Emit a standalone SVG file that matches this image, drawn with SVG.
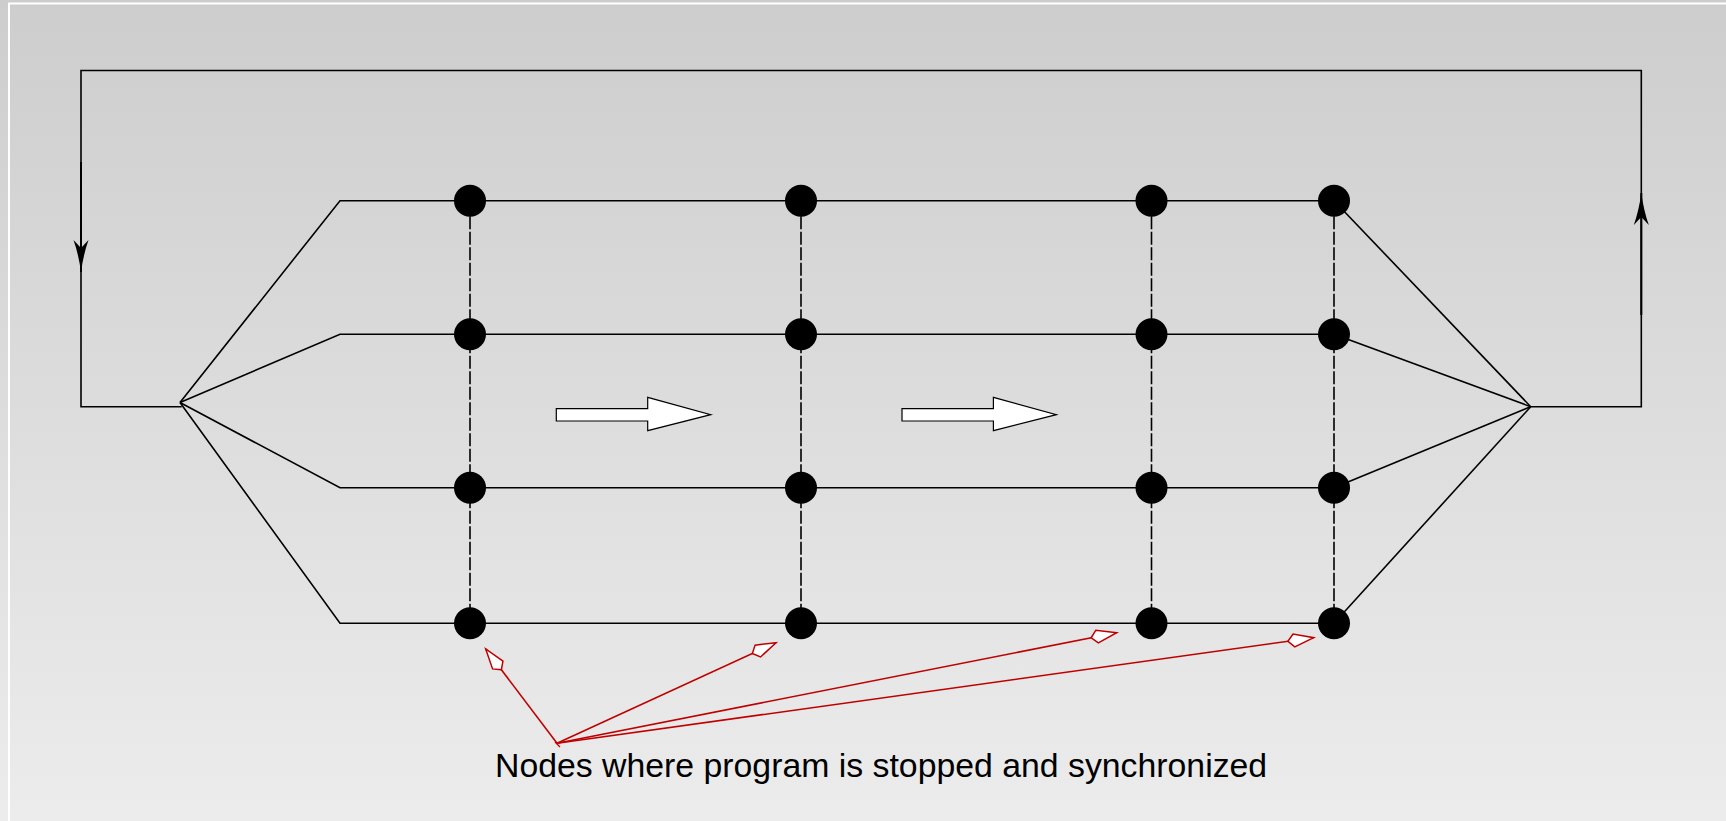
<svg xmlns="http://www.w3.org/2000/svg" width="1726" height="821" viewBox="0 0 1726 821">
  <defs>
    <linearGradient id="bg" x1="0" y1="0" x2="0" y2="1">
      <stop offset="0" stop-color="#cdcdcd"/>
      <stop offset="1" stop-color="#ececec"/>
    </linearGradient>
    <marker id="flow" markerUnits="userSpaceOnUse" markerWidth="40" markerHeight="20" refX="32" refY="0" viewBox="0 -10 40 20" orient="auto">
      <path d="M32,0 Q14,-2.5 0,-7.5 L8,0 L0,7.5 Q14,2.5 32,0 Z" fill="#000"/>
    </marker>
    <marker id="kite" markerUnits="userSpaceOnUse" markerWidth="32" markerHeight="20" refX="26" refY="0" viewBox="-2 -10 32 20" orient="auto">
      <path d="M0,0 L6,-6.5 L26,0 L6,6.5 Z" fill="#fff" stroke="#bf0000" stroke-width="1.5" stroke-linejoin="miter"/>
    </marker>
  </defs>
  <style>
    .wire { fill: none; stroke: #000; stroke-width: 1.6; }
    .sync { fill: none; stroke: #000; stroke-width: 1.6; stroke-dasharray: 13 2.5; }
    .node { fill: #000; }
    .flowarrow { fill: #fff; stroke: #000; stroke-width: 1.2; }
    .pointer { fill: none; stroke: #bf0000; stroke-width: 1.6; marker-end: url(#kite); }
    .label { font-family: "Liberation Sans", Arial, sans-serif; font-size: 33.8px; fill: #000; }
  </style>

  <!-- background -->
  <rect x="0" y="0" width="1726" height="821" fill="url(#bg)"/>
  <path d="M9,821 V3.5 H1726" fill="none" stroke="#fff" stroke-width="2"/>

  <g id="connectors">
    <!-- outer feedback loop -->
    <path class="wire" d="M181.7,406.7 H81 V70.5 H1641.3 V406.7 H1530.7"/>
    <line x1="81" y1="162" x2="81" y2="272" stroke="#000" stroke-width="2" marker-end="url(#flow)"/>
    <line x1="1641.3" y1="315" x2="1641.3" y2="193" stroke="#000" stroke-width="2" marker-end="url(#flow)"/>

    <!-- fork on the left -->
    <path class="wire" d="M180,402.5 L340,200.7 H1334"/>
    <path class="wire" d="M180,402.5 L340,334.3 H1334"/>
    <path class="wire" d="M180,402.5 L340,487.7 H1334"/>
    <path class="wire" d="M180,402.5 L340,623.3 H1334"/>

    <!-- join on the right -->
    <path class="wire" d="M1334,200.7 L1530.7,406.7"/>
    <path class="wire" d="M1334,334.3 L1530.7,406.7"/>
    <path class="wire" d="M1334,487.7 L1530.7,406.7"/>
    <path class="wire" d="M1334,623.3 L1530.7,406.7"/>

    <!-- synchronisation barriers -->
    <line class="sync" x1="470" y1="200.7" x2="470" y2="623.3"/>
    <line class="sync" x1="801" y1="200.7" x2="801" y2="623.3"/>
    <line class="sync" x1="1151.5" y1="200.7" x2="1151.5" y2="623.3"/>
    <line class="sync" x1="1334" y1="200.7" x2="1334" y2="623.3"/>

    <!-- callout pointers -->
    <line class="pointer" x1="557" y1="743.3" x2="485.7" y2="649"/>
    <line class="pointer" x1="557" y1="743.3" x2="776" y2="642.7"/>
    <line class="pointer" x1="557" y1="743.3" x2="1116.7" y2="632.7"/>
    <line class="pointer" x1="557" y1="743.3" x2="1313.7" y2="637.7"/>
    <line x1="555" y1="742" x2="560" y2="747" stroke="#bf0000" stroke-width="1.2"/>
  </g>

  <!-- progress arrows -->
  <g id="progress-1">
    <polygon class="flowarrow" points="556.3,408.7 647.7,408.7 647.7,397.3 710.7,414.7 647.7,430.7 647.7,421 556.3,421"/>
  </g>
  <g id="progress-2">
    <polygon class="flowarrow" points="902,408.7 993.4,408.7 993.4,397.3 1056.4,414.7 993.4,430.7 993.4,421 902,421"/>
  </g>

  <!-- column 1 -->
  <g id="n-1-1"><circle class="node" cx="470" cy="200.7" r="16"/></g>
  <g id="n-1-2"><circle class="node" cx="470" cy="334.3" r="16"/></g>
  <g id="n-1-3"><circle class="node" cx="470" cy="487.7" r="16"/></g>
  <g id="n-1-4"><circle class="node" cx="470" cy="623.3" r="16"/></g>
  <!-- column 2 -->
  <g id="n-2-1"><circle class="node" cx="801" cy="200.7" r="16"/></g>
  <g id="n-2-2"><circle class="node" cx="801" cy="334.3" r="16"/></g>
  <g id="n-2-3"><circle class="node" cx="801" cy="487.7" r="16"/></g>
  <g id="n-2-4"><circle class="node" cx="801" cy="623.3" r="16"/></g>
  <!-- column 3 -->
  <g id="n-3-1"><circle class="node" cx="1151.5" cy="200.7" r="16"/></g>
  <g id="n-3-2"><circle class="node" cx="1151.5" cy="334.3" r="16"/></g>
  <g id="n-3-3"><circle class="node" cx="1151.5" cy="487.7" r="16"/></g>
  <g id="n-3-4"><circle class="node" cx="1151.5" cy="623.3" r="16"/></g>
  <!-- column 4 -->
  <g id="n-4-1"><circle class="node" cx="1334" cy="200.7" r="16"/></g>
  <g id="n-4-2"><circle class="node" cx="1334" cy="334.3" r="16"/></g>
  <g id="n-4-3"><circle class="node" cx="1334" cy="487.7" r="16"/></g>
  <g id="n-4-4"><circle class="node" cx="1334" cy="623.3" r="16"/></g>

  <g id="caption">
    <text class="label" x="495" y="776.7">Nodes where program is stopped and synchronized</text>
  </g>
</svg>
